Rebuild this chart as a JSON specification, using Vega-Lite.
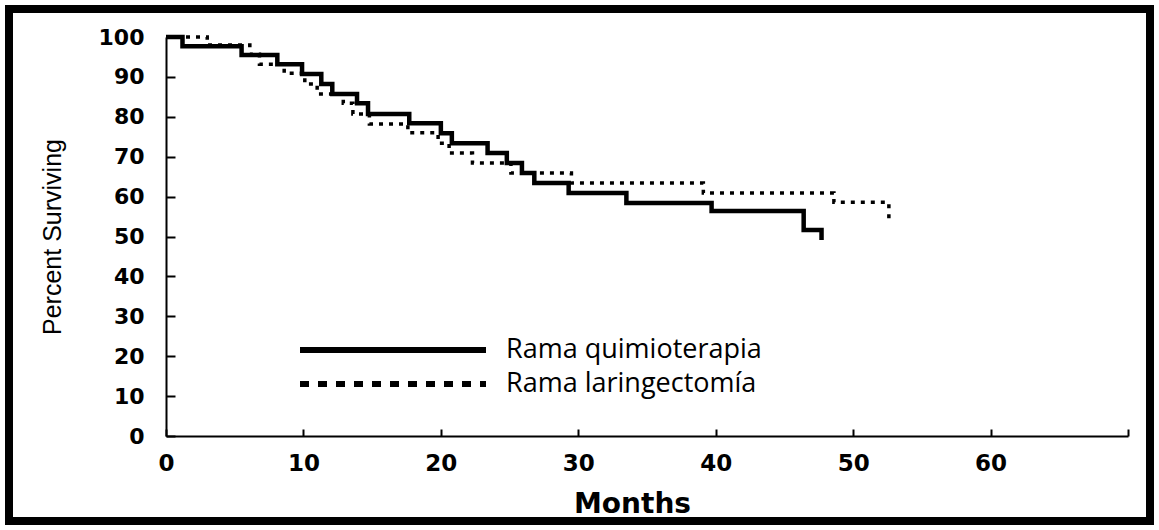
{
  "$schema": "https://vega.github.io/schema/vega-lite/v6.json",
  "autosize": {"type": "none"},
  "padding": 9,
  "width": 1141,
  "height": 512,
  "background": "white",
  "config": {
    "view": {"stroke": "black", "strokeWidth": 8},
    "axis": {
      "domainColor": "black",
      "domainWidth": 2,
      "tickColor": "black",
      "tickWidth": 2,
      "grid": false,
      "labelColor": "black",
      "titleColor": "black"
    }
  },
  "data": {
    "values": [
      {"series": "Rama quimioterapia", "month": 0, "pct": 100},
      {"series": "Rama quimioterapia", "month": 1.2, "pct": 97.7},
      {"series": "Rama quimioterapia", "month": 5.5, "pct": 95.5},
      {"series": "Rama quimioterapia", "month": 8.1, "pct": 93.2},
      {"series": "Rama quimioterapia", "month": 9.9, "pct": 90.7},
      {"series": "Rama quimioterapia", "month": 11.3, "pct": 88.2},
      {"series": "Rama quimioterapia", "month": 12.1, "pct": 85.7},
      {"series": "Rama quimioterapia", "month": 13.9, "pct": 83.4},
      {"series": "Rama quimioterapia", "month": 14.7, "pct": 80.7},
      {"series": "Rama quimioterapia", "month": 17.7, "pct": 78.4},
      {"series": "Rama quimioterapia", "month": 20.0, "pct": 75.9},
      {"series": "Rama quimioterapia", "month": 20.8, "pct": 73.4},
      {"series": "Rama quimioterapia", "month": 23.4, "pct": 70.9},
      {"series": "Rama quimioterapia", "month": 24.8, "pct": 68.4},
      {"series": "Rama quimioterapia", "month": 25.9, "pct": 65.9},
      {"series": "Rama quimioterapia", "month": 26.8, "pct": 63.4},
      {"series": "Rama quimioterapia", "month": 29.3, "pct": 60.9},
      {"series": "Rama quimioterapia", "month": 33.5, "pct": 58.4},
      {"series": "Rama quimioterapia", "month": 39.7, "pct": 56.4},
      {"series": "Rama quimioterapia", "month": 46.4, "pct": 51.6},
      {"series": "Rama quimioterapia", "month": 47.7, "pct": 49.1},
      {"series": "Rama laringectomía", "month": 0, "pct": 100},
      {"series": "Rama laringectomía", "month": 3.0, "pct": 98.0},
      {"series": "Rama laringectomía", "month": 6.1, "pct": 95.7},
      {"series": "Rama laringectomía", "month": 6.8, "pct": 93.2},
      {"series": "Rama laringectomía", "month": 8.6, "pct": 90.9},
      {"series": "Rama laringectomía", "month": 10.1, "pct": 88.2},
      {"series": "Rama laringectomía", "month": 11.0, "pct": 85.7},
      {"series": "Rama laringectomía", "month": 12.9, "pct": 83.4},
      {"series": "Rama laringectomía", "month": 13.6, "pct": 80.7},
      {"series": "Rama laringectomía", "month": 14.8, "pct": 78.2},
      {"series": "Rama laringectomía", "month": 17.6, "pct": 76.0},
      {"series": "Rama laringectomía", "month": 19.8, "pct": 73.4},
      {"series": "Rama laringectomía", "month": 20.6, "pct": 70.9},
      {"series": "Rama laringectomía", "month": 22.3, "pct": 68.4},
      {"series": "Rama laringectomía", "month": 25.1, "pct": 65.9},
      {"series": "Rama laringectomía", "month": 29.5, "pct": 63.4},
      {"series": "Rama laringectomía", "month": 39.1, "pct": 60.9},
      {"series": "Rama laringectomía", "month": 48.6, "pct": 58.6},
      {"series": "Rama laringectomía", "month": 52.6, "pct": 53.6}
    ]
  },
  "encoding": {
    "x": {
      "field": "month",
      "type": "quantitative",
      "scale": {"domain": [0, 70], "range": [157, 1119], "nice": false},
      "axis": {
        "orient": "bottom",
        "offset": -85,
        "values": [0, 10, 20, 30, 40, 50, 60, 70],
        "labelExpr": "datum.value == 70 ? '' : datum.label",
        "tickSize": -7,
        "labelPadding": 23,
        "labelFont": "DejaVu Sans",
        "labelFontWeight": "bold",
        "labelFontSize": 23,
        "labelFlush": false,
        "title": "Months",
        "titleFont": "DejaVu Sans",
        "titleFontWeight": "bold",
        "titleFontSize": 28,
        "titleX": 623,
        "titleY": 76,
        "titleBaseline": "alphabetic",
        "titleAlign": "center"
      }
    },
    "y": {
      "field": "pct",
      "type": "quantitative",
      "scale": {"domain": [0, 100], "range": [427, 28], "nice": false},
      "axis": {
        "orient": "left",
        "offset": -157,
        "values": [0, 10, 20, 30, 40, 50, 60, 70, 80, 90, 100],
        "tickSize": -9,
        "labelPadding": 31,
        "labelFont": "DejaVu Sans",
        "labelFontWeight": "bold",
        "labelFontSize": 22,
        "labelFlush": false,
        "title": "Percent Surviving",
        "titleFont": "Liberation Sans",
        "titleFontWeight": "normal",
        "titleFontSize": 25,
        "titleAngle": -90,
        "titleX": -114,
        "titleY": 227.5,
        "titleBaseline": "middle",
        "titleAlign": "center"
      }
    }
  },
  "layer": [
    {
      "transform": [{"filter": "datum.series === 'Rama quimioterapia'"}],
      "mark": {"type": "line", "interpolate": "step-after", "color": "black", "strokeWidth": 4.5, "strokeCap": "butt"}
    },
    {
      "transform": [{"filter": "datum.series === 'Rama laringectomía'"}],
      "mark": {"type": "line", "interpolate": "step-after", "color": "black", "strokeWidth": 3.5, "strokeDash": [4, 6], "strokeCap": "butt"}
    },
    {
      "transform": [{"filter": "false"}],
      "mark": {"type": "line", "color": "black", "strokeWidth": 6, "strokeCap": "butt"},
      "encoding": {
        "strokeDash": {
          "field": "series",
          "type": "nominal",
          "scale": {
            "domain": ["Rama quimioterapia", "Rama laringectomía"],
            "range": [[1, 0], [9, 9]]
          },
          "legend": {
            "orient": "none",
            "legendX": 288,
            "legendY": 324,
            "title": null,
            "padding": 0,
            "symbolType": "stroke",
            "symbolSize": 34596,
            "symbolStrokeWidth": 6,
            "symbolStrokeColor": "black",
            "symbolOpacity": 1,
            "clipHeight": 34,
            "rowPadding": -3,
            "labelFont": "Open Sans",
            "labelFontSize": 27,
            "labelColor": "black",
            "labelOffset": 17,
            "labelLimit": 500
          }
        }
      }
    }
  ]
}
